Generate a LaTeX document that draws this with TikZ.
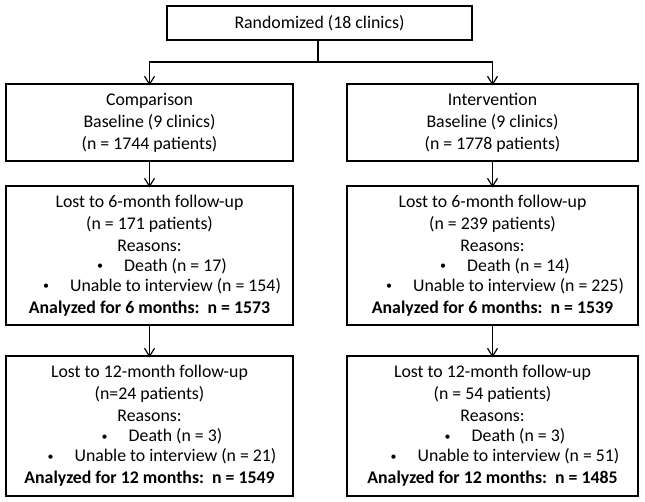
\documentclass[tikz,border=0pt]{standalone}
\usepackage{fontspec}
\setmainfont{Carlito}
\usetikzlibrary{arrows.meta}
\tikzset{
  box/.style={draw, line width=1.2pt, align=center, inner sep=0pt,
    font=\fontsize{17.8}{22}\selectfont},
  lbox/.style={box, minimum width=287pt},
  rbox/.style={box, minimum width=291pt},
  conn/.style={line width=1.2pt},
  arr/.style={line width=1.2pt, -{Straight Barb[length=8pt,width=10pt,line width=1.2pt]}}
}
\newcommand{\bitem}[1]{\hspace*{25pt}\makebox[6pt]{\raisebox{1.5pt}{\fontsize{12}{12}\selectfont\textbullet}}\hspace{21pt}#1}
\begin{document}
\begin{tikzpicture}[x=1pt,y=-1pt]
\useasboundingbox (0,0) rectangle (645,502);
\node[box, minimum width=305pt, minimum height=34pt] (top) at (319.5,23) {Randomized (18 clinics)};
\node[lbox, minimum height=77pt] (c1) at (149.5,122.5) {Comparison\\ Baseline (9 clinics)\\ (n = 1744 patients)};
\node[rbox, minimum height=77pt] (i1) at (492.5,122.5) {Intervention\\ Baseline (9 clinics)\\ (n = 1778 patients)};
\node[lbox, minimum height=139pt] (c2) at (149.5,255.5) {Lost to 6-month follow-up\\ (n = 171 patients)\\ Reasons:\\[-2pt] \bitem{Death (n = 17)}\\[-2pt] \bitem{Unable to interview (n = 154)}\\ \textbf{Analyzed for 6 months:\ \ n = 1573}};
\node[rbox, minimum height=139pt] (i2) at (492.5,255.5) {Lost to 6-month follow-up\\ (n = 239 patients)\\ Reasons:\\[-2pt] \bitem{Death (n = 14)}\\[-2pt] \bitem{Unable to interview (n = 225)}\\ \textbf{Analyzed for 6 months:\ \ n = 1539}};
\node[lbox, minimum height=140pt] (c3) at (149.5,426) {Lost to 12-month follow-up\\ (n=24 patients)\\ Reasons:\\[-2pt] \bitem{Death (n = 3)}\\[-2pt] \bitem{Unable to interview (n = 21)}\\ \textbf{Analyzed for 12 months:\ \ n = 1549}};
\node[rbox, minimum height=140pt] (i3) at (492.5,426) {Lost to 12-month follow-up\\ (n = 54 patients)\\ Reasons:\\[-2pt] \bitem{Death (n = 3)}\\[-2pt] \bitem{Unable to interview (n = 51)}\\ \textbf{Analyzed for 12 months:\ \ n = 1485}};
\coordinate (split) at (318,62);
\draw[conn] (top.south -| split) -- (split);
\draw[arr] (split) -| ([yshift=-2pt]c1.north);
\draw[arr] (split) -| ([yshift=-2pt]i1.north);
\draw[arr] (c1) -- ([yshift=-2pt]c2.north);
\draw[arr] (i1) -- ([yshift=-2pt]i2.north);
\draw[arr] (c2) -- ([yshift=-2pt]c3.north);
\draw[arr] (i2) -- ([yshift=-2pt]i3.north);
\end{tikzpicture}
\end{document}
